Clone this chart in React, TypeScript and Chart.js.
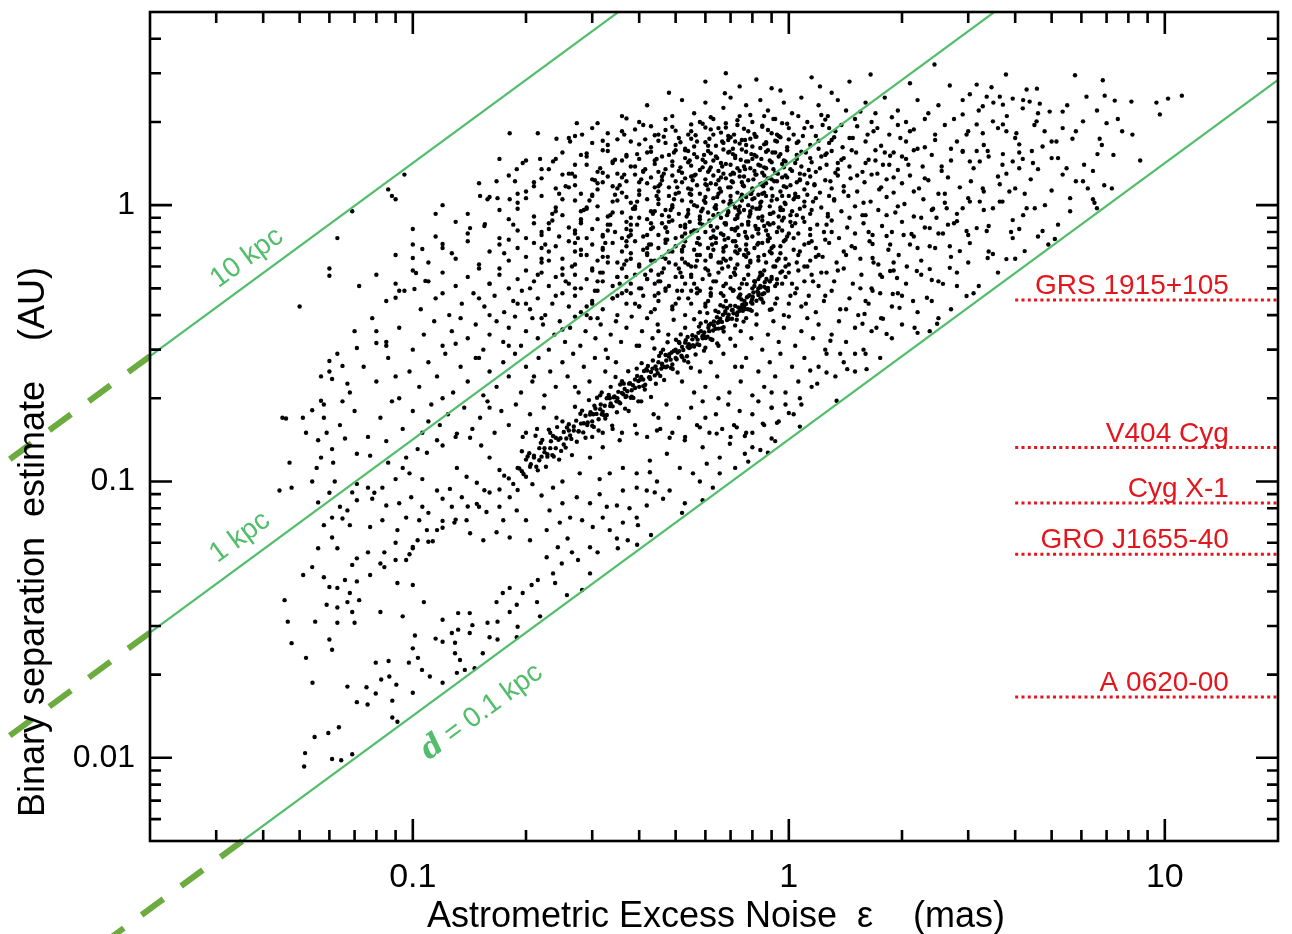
import React, { useEffect, useRef } from "react";
import { Chart, registerables } from "chart.js";

Chart.register(...registerables);

type P = [number, number];

// ---------- axes ----------
const xRange = [0.02, 20];
const yRange = [0.005, 5];
const xMajorTicks = [0.1, 1, 10];
const yMajorTicks = [0.01, 0.1, 1];
const xMinorTicks = [0.03, 0.04, 0.05, 0.06, 0.07, 0.08, 0.09, 0.2, 0.3, 0.4, 0.5, 0.6, 0.7, 0.8, 0.9, 2, 3, 4, 5, 6, 7, 8, 9];
const yMinorTicks = [0.006, 0.007, 0.008, 0.009, 0.02, 0.03, 0.04, 0.05, 0.06, 0.07, 0.08, 0.09, 0.2, 0.3, 0.4, 0.5, 0.6, 0.7, 0.8, 0.9, 2, 3, 4];
const xTitle = "Astrometric Excess Noise  \u03b5    (mas)";
const yTitle = "Binary separation  estimate    (AU)";

// ---------- distance lines ----------
const distanceNames = ["10 kpc", "1 kpc", "= 0.1 kpc"];
const distanceLines: P[][] = [
  [[0.02, 0.284], [20, 284]],
  [[0.02, 0.0284], [20, 28.4]],
  [[0.02, 0.00284], [20, 2.84]],
];
const distanceExtensions: P[][] = [
  [[0.02, 0.284], [0.0083, 0.1179]],
  [[0.02, 0.0284], [0.0083, 0.01179]],
  [[0.0352, 0.005], [0.0083, 0.001179]],
];
const distanceLabelPos: P[] = [[0.0362, 0.644], [0.0347, 0.0628], [0.1526, 0.01466]];

// ---------- X-ray binaries ----------
const sourceNames = ["GRS 1915+105", "V404 Cyg", "Cyg X-1", "GRO J1655-40", "A 0620-00"];
const sourceSeparations = [0.454, 0.1327, 0.0835, 0.0545, 0.0166];
const sourceLineRange = [4.0, 20];
const sourceLabelRight = 14.8;

// ---------- scatter points (epsilon mas, separation AU) ----------
const topPoints: P[] = [
  [1.65, 2.97], [3.78, 2.97], [5.77, 2.95], [6.84, 2.83], [2.44, 3.23], [2.1, 2.76], [2.68, 2.71], [3.16, 2.73], [3.46, 2.67], [4.29, 2.62],
  [4.57, 2.64], [10.2, 2.43], [11.1, 2.49], [6.19, 2.47], [6.92, 2.49], [7.36, 2.39], [8.15, 2.37], [1.21, 2.69], [0.9, 2.65], [0.74, 2.69],
  [0.6, 2.8], [0.676, 2.54], [0.68, 3.0], [0.82, 2.85], [1.15, 2.9], [1.45, 2.8], [0.95, 2.6], [1.3, 2.55], [0.48, 2.55], [9.5, 2.35],
];

const cloudUpper: P[] = [
  [0.36, 2.1], [0.42, 2.3], [0.47, 2.05], [0.52, 2.4], [0.56, 2.15], [0.6, 2.35], [0.63, 2.05], [0.67, 2.25], [0.7, 2.45], [0.74, 2.1],
  [0.77, 2.3], [0.8, 2.0], [0.84, 2.4], [0.88, 2.2], [0.92, 2.05], [0.97, 2.35], [1.02, 2.15], [1.08, 2.45], [1.12, 2.0], [1.2, 2.3],
  [1.27, 2.1], [1.35, 2.4], [1.42, 2.2], [1.5, 2.05], [1.6, 2.35], [1.7, 2.15], [1.8, 2.45], [1.95, 2.2], [2.05, 2.0], [2.2, 2.4],
  [2.35, 2.15], [2.5, 2.3], [2.75, 2.05], [2.9, 2.4], [3.2, 2.2], [3.5, 2.35], [3.8, 2.1], [4.2, 2.4], [4.6, 2.15], [5.5, 2.3],
  [6.6, 2.2], [7.5, 2.05], [0.4, 2.0], [0.58, 2.0], [0.86, 2.1],
  [0.26, 1.75], [0.3, 1.9], [0.33, 1.65], [0.36, 1.85], [0.38, 1.7], [0.41, 1.95], [0.43, 1.62], [0.45, 1.8], [0.47, 1.68], [0.49, 1.92],
  [0.51, 1.75], [0.53, 1.6], [0.55, 1.85], [0.57, 1.7], [0.59, 1.97], [0.61, 1.64], [0.63, 1.8], [0.65, 1.9], [0.67, 1.68], [0.69, 1.78],
  [0.71, 1.6], [0.73, 1.95], [0.75, 1.72], [0.78, 1.85], [0.8, 1.63], [0.82, 1.77], [0.85, 1.92], [0.87, 1.67], [0.9, 1.82], [0.93, 1.7],
  [0.96, 1.98], [0.99, 1.62], [1.03, 1.8], [1.06, 1.7], [1.1, 1.9], [1.14, 1.65], [1.18, 1.78], [1.23, 1.95], [1.28, 1.68], [1.33, 1.85],
  [1.39, 1.62], [1.45, 1.75], [1.52, 1.93], [1.6, 1.7], [1.68, 1.85], [1.76, 1.64], [1.85, 1.8], [1.95, 1.95], [2.05, 1.7], [2.15, 1.88],
  [2.3, 1.62], [2.45, 1.8], [2.6, 1.95], [2.8, 1.7], [3.0, 1.85], [3.3, 1.65], [3.6, 1.9], [4.0, 1.75], [4.5, 1.95], [5.0, 1.7],
  [5.8, 1.85], [6.8, 1.65], [8.2, 1.8], [0.62, 1.88], [0.72, 1.7], [0.84, 1.61], [0.47, 1.87], [0.56, 1.63], [0.95, 1.76], [1.2, 1.6],
  [0.68, 1.98], [0.77, 1.65],
  [0.2, 1.45], [0.23, 1.35], [0.25, 1.55], [0.27, 1.4], [0.29, 1.5], [0.31, 1.32], [0.32, 1.58], [0.34, 1.42], [0.35, 1.3], [0.37, 1.52],
  [0.38, 1.38], [0.4, 1.47], [0.41, 1.33], [0.43, 1.56], [0.44, 1.41], [0.46, 1.5], [0.47, 1.35], [0.49, 1.44], [0.5, 1.58], [0.52, 1.31],
  [0.53, 1.48], [0.55, 1.39], [0.56, 1.53], [0.58, 1.34], [0.59, 1.46], [0.61, 1.57], [0.62, 1.37], [0.64, 1.5], [0.66, 1.42], [0.67, 1.3],
  [0.69, 1.55], [0.7, 1.4], [0.72, 1.48], [0.74, 1.33], [0.75, 1.59], [0.77, 1.44], [0.79, 1.36], [0.81, 1.52], [0.83, 1.4], [0.85, 1.31],
  [0.87, 1.56], [0.89, 1.45], [0.91, 1.35], [0.94, 1.5], [0.96, 1.41], [0.99, 1.58], [1.02, 1.33], [1.05, 1.47], [1.08, 1.38], [1.11, 1.55],
  [1.15, 1.43], [1.18, 1.32], [1.22, 1.5], [1.26, 1.4], [1.3, 1.57], [1.35, 1.35], [1.4, 1.48], [1.45, 1.38], [1.51, 1.55], [1.57, 1.32],
  [1.63, 1.46], [1.7, 1.58], [1.78, 1.4], [1.86, 1.51], [1.95, 1.34], [2.05, 1.47], [2.15, 1.58], [2.27, 1.38], [2.4, 1.52], [2.55, 1.33],
  [2.7, 1.45], [2.9, 1.56], [3.1, 1.36], [3.4, 1.5], [3.7, 1.4], [4.1, 1.55], [4.6, 1.35], [5.2, 1.48], [6.1, 1.4], [7.3, 1.52],
  [8.6, 1.45], [0.26, 1.3], [0.36, 1.45], [0.45, 1.32], [0.54, 1.57], [0.6, 1.43], [0.65, 1.33], [0.71, 1.53], [0.76, 1.38], [0.8, 1.47],
  [0.86, 1.37], [0.92, 1.55], [0.98, 1.44], [1.13, 1.34], [1.25, 1.52], [1.6, 1.42], [1.9, 1.55],
  [0.15, 1.2], [0.18, 1.28], [0.2, 1.12], [0.22, 1.25], [0.24, 1.15], [0.25, 1.29], [0.27, 1.18], [0.28, 1.1], [0.3, 1.24], [0.31, 1.14],
  [0.33, 1.27], [0.34, 1.17], [0.36, 1.11], [0.37, 1.22], [0.39, 1.29], [0.4, 1.13], [0.42, 1.2], [0.43, 1.26], [0.45, 1.12], [0.46, 1.23],
  [0.48, 1.16], [0.49, 1.28], [0.51, 1.11], [0.52, 1.21], [0.54, 1.15], [0.55, 1.27], [0.57, 1.18], [0.58, 1.1], [0.6, 1.24], [0.61, 1.14],
  [0.63, 1.28], [0.64, 1.19], [0.66, 1.12], [0.68, 1.25], [0.69, 1.16], [0.71, 1.21], [0.73, 1.11], [0.74, 1.27], [0.76, 1.17], [0.78, 1.23],
  [0.8, 1.13], [0.82, 1.29], [0.84, 1.19], [0.86, 1.11], [0.88, 1.25], [0.9, 1.15], [0.93, 1.22], [0.95, 1.12], [0.98, 1.28], [1.01, 1.18],
  [1.04, 1.1], [1.07, 1.24], [1.1, 1.14], [1.14, 1.27], [1.17, 1.19], [1.21, 1.11], [1.25, 1.23], [1.3, 1.15], [1.35, 1.28], [1.4, 1.17],
  [1.46, 1.25], [1.52, 1.12], [1.59, 1.21], [1.66, 1.29], [1.74, 1.14], [1.82, 1.24], [1.9, 1.11], [2.0, 1.2], [2.1, 1.28], [2.22, 1.15],
  [2.35, 1.23], [2.5, 1.1], [2.65, 1.26], [2.85, 1.16], [3.05, 1.22], [3.3, 1.12], [3.6, 1.27], [4.0, 1.15], [4.4, 1.24], [5.0, 1.13],
  [5.8, 1.22], [6.9, 1.18], [0.21, 1.17], [0.32, 1.21], [0.44, 1.16], [0.53, 1.25], [0.62, 1.2], [0.7, 1.29], [0.79, 1.1], [0.87, 1.2],
  [0.96, 1.26], [1.12, 1.2],
  [0.12, 1.0], [0.09, 1.05], [0.14, 0.93], [0.16, 1.07], [0.17, 0.96], [0.19, 1.02], [0.21, 0.91], [0.22, 1.08], [0.24, 0.98], [0.25, 0.92],
  [0.27, 1.04], [0.28, 0.95], [0.3, 1.09], [0.31, 0.99], [0.33, 0.91], [0.34, 1.03], [0.36, 0.94], [0.37, 1.07], [0.39, 0.97], [0.4, 0.9],
  [0.42, 1.05], [0.43, 0.95], [0.45, 1.01], [0.46, 0.92], [0.48, 1.08], [0.49, 0.98], [0.51, 0.93], [0.52, 1.04], [0.54, 0.96], [0.55, 1.09],
  [0.57, 0.99], [0.58, 0.91], [0.6, 1.02], [0.61, 0.94], [0.63, 1.06], [0.64, 0.97], [0.66, 0.9], [0.67, 1.03], [0.69, 0.95], [0.7, 1.08],
  [0.72, 0.98], [0.73, 0.92], [0.75, 1.04], [0.76, 0.96], [0.78, 1.0], [0.79, 0.93], [0.81, 1.06], [0.82, 0.97], [0.84, 1.02], [0.85, 0.91],
  [0.87, 1.08], [0.89, 0.99], [0.91, 0.94], [0.93, 1.05], [0.95, 0.96], [0.98, 1.01], [1.01, 0.92], [1.04, 1.07], [1.07, 0.97], [1.1, 1.03],
  [1.14, 0.93], [1.18, 1.06], [1.22, 0.98], [1.27, 0.91], [1.32, 1.04], [1.38, 0.95], [1.44, 1.08], [1.5, 0.99], [1.57, 0.92], [1.65, 1.03],
  [1.73, 0.96], [1.82, 1.07], [1.92, 0.94], [2.03, 1.01], [2.15, 0.91], [2.28, 1.05], [2.42, 0.97], [2.6, 1.02], [2.8, 0.93], [3.0, 1.06],
  [3.3, 0.96], [3.7, 1.03], [4.2, 0.92], [4.8, 1.0], [5.6, 0.95], [6.5, 1.02], [0.77, 1.07], [0.8, 0.98], [0.74, 0.94], [0.83, 1.09],
  [0.71, 1.01], [0.65, 0.93], [0.56, 1.0], [0.47, 0.96], [0.38, 1.02], [0.29, 0.97], [1.0, 1.08], [0.97, 0.9],
];

const cloudMiddle: P[] = [
  [0.1, 0.82], [0.115, 0.77], [0.13, 0.87], [0.14, 0.79], [0.155, 0.84], [0.17, 0.76], [0.18, 0.89], [0.19, 0.81], [0.2, 0.76], [0.21, 0.86],
  [0.22, 0.8], [0.235, 0.88], [0.245, 0.77], [0.26, 0.83], [0.27, 0.79], [0.28, 0.87], [0.29, 0.76], [0.3, 0.82], [0.31, 0.89], [0.32, 0.78],
  [0.335, 0.85], [0.345, 0.8], [0.36, 0.76], [0.37, 0.87], [0.38, 0.81], [0.395, 0.85], [0.41, 0.77], [0.42, 0.89], [0.435, 0.83], [0.45, 0.78],
  [0.46, 0.86], [0.475, 0.8], [0.49, 0.88], [0.5, 0.76], [0.515, 0.84], [0.53, 0.79], [0.545, 0.87], [0.56, 0.81], [0.575, 0.76], [0.59, 0.85],
  [0.6, 0.8], [0.615, 0.88], [0.63, 0.77], [0.645, 0.83], [0.66, 0.79], [0.675, 0.86], [0.69, 0.76], [0.705, 0.82], [0.72, 0.89], [0.735, 0.78],
  [0.75, 0.85], [0.765, 0.8], [0.78, 0.87], [0.8, 0.77], [0.815, 0.84], [0.83, 0.79], [0.85, 0.88], [0.87, 0.81], [0.89, 0.76], [0.91, 0.86],
  [0.93, 0.8], [0.96, 0.88], [0.99, 0.77], [1.02, 0.84], [1.06, 0.79], [1.1, 0.87], [1.14, 0.78], [1.19, 0.85], [1.24, 0.8], [1.3, 0.88],
  [1.36, 0.76], [1.43, 0.83], [1.5, 0.79], [1.58, 0.86], [1.67, 0.78], [1.77, 0.84], [1.88, 0.8], [2.0, 0.87], [2.15, 0.77], [2.3, 0.83],
  [2.5, 0.79], [2.75, 0.86], [3.0, 0.78], [3.4, 0.84], [3.9, 0.8], [4.6, 0.77], [5.2, 0.85], [0.063, 0.76], [0.069, 0.95], [0.086, 1.14],
  [0.088, 1.08], [0.095, 1.29], [0.55, 0.8], [0.64, 0.76], [0.72, 0.81], [0.86, 0.84], [0.47, 0.83], [0.38, 0.78],
  [0.09, 0.66], [0.1, 0.72], [0.11, 0.62], [0.12, 0.7], [0.13, 0.64], [0.14, 0.74], [0.15, 0.61], [0.16, 0.68], [0.17, 0.72], [0.18, 0.63],
  [0.19, 0.7], [0.2, 0.65], [0.21, 0.73], [0.22, 0.62], [0.23, 0.68], [0.24, 0.71], [0.25, 0.64], [0.26, 0.74], [0.27, 0.61], [0.28, 0.69],
  [0.29, 0.66], [0.3, 0.72], [0.31, 0.63], [0.32, 0.7], [0.33, 0.65], [0.34, 0.73], [0.35, 0.62], [0.36, 0.68], [0.37, 0.71], [0.38, 0.64],
  [0.39, 0.74], [0.4, 0.61], [0.41, 0.69], [0.42, 0.66], [0.43, 0.72], [0.44, 0.63], [0.45, 0.7], [0.46, 0.65], [0.47, 0.73], [0.48, 0.62],
  [0.49, 0.68], [0.5, 0.71], [0.52, 0.64], [0.53, 0.74], [0.54, 0.61], [0.56, 0.69], [0.57, 0.66], [0.58, 0.72], [0.6, 0.63], [0.61, 0.7],
  [0.62, 0.65], [0.64, 0.73], [0.65, 0.62], [0.67, 0.68], [0.68, 0.71], [0.7, 0.64], [0.71, 0.74], [0.73, 0.61], [0.74, 0.69], [0.76, 0.66],
  [0.77, 0.72], [0.79, 0.63], [0.81, 0.7], [0.83, 0.65], [0.85, 0.73], [0.87, 0.62], [0.89, 0.68], [0.91, 0.71], [0.94, 0.64], [0.97, 0.74],
  [1.0, 0.61], [1.03, 0.69], [1.06, 0.66], [1.1, 0.72], [1.14, 0.63], [1.18, 0.7], [1.23, 0.65], [1.28, 0.73], [1.34, 0.62], [1.4, 0.68],
  [1.47, 0.71], [1.55, 0.64], [1.64, 0.74], [1.73, 0.61], [1.84, 0.69], [1.96, 0.66], [2.1, 0.72], [2.25, 0.63], [2.45, 0.7], [2.7, 0.65],
  [3.0, 0.62], [3.4, 0.68], [4.0, 0.64], [4.9, 0.72], [0.06, 0.59], [0.98, 0.6], [1.05, 0.62], [1.12, 0.6], [0.95, 0.67], [0.88, 0.74],
  [0.78, 0.67], [0.69, 0.6], [0.55, 0.6],
  [0.072, 0.51], [0.08, 0.56], [0.09, 0.52], [0.1, 0.58], [0.11, 0.53], [0.12, 0.57], [0.13, 0.51], [0.14, 0.55], [0.15, 0.59], [0.16, 0.52],
  [0.17, 0.56], [0.18, 0.5], [0.19, 0.54], [0.2, 0.58], [0.21, 0.53], [0.22, 0.57], [0.23, 0.51], [0.24, 0.55], [0.25, 0.59], [0.26, 0.52],
  [0.27, 0.56], [0.28, 0.5], [0.29, 0.54], [0.3, 0.58], [0.31, 0.53], [0.32, 0.57], [0.34, 0.51], [0.35, 0.55], [0.36, 0.59], [0.38, 0.52],
  [0.39, 0.56], [0.4, 0.5], [0.42, 0.54], [0.43, 0.58], [0.45, 0.53], [0.46, 0.57], [0.48, 0.51], [0.5, 0.55], [0.51, 0.59], [0.53, 0.52],
  [0.55, 0.56], [0.57, 0.5], [0.59, 0.54], [0.61, 0.58], [0.63, 0.53], [0.65, 0.57], [0.67, 0.51], [0.7, 0.55], [0.72, 0.59], [0.75, 0.52],
  [0.78, 0.56], [0.8, 0.5], [0.83, 0.54], [0.86, 0.58], [0.89, 0.53], [0.92, 0.51], [0.95, 0.57], [0.98, 0.55], [1.02, 0.52], [1.06, 0.58],
  [1.1, 0.53], [1.15, 0.56], [1.2, 0.51], [1.26, 0.57], [1.32, 0.53], [1.4, 0.59], [1.48, 0.52], [1.56, 0.56], [1.66, 0.5], [1.77, 0.55],
  [1.9, 0.58], [2.05, 0.52], [2.25, 0.56], [2.5, 0.53], [2.8, 0.57], [3.2, 0.51], [3.6, 0.57], [0.06, 0.555], [0.87, 0.5], [0.9, 0.55],
  [0.93, 0.52], [0.84, 0.51], [0.81, 0.53], [0.37, 0.55], [0.44, 0.52], [0.62, 0.5],
  [0.05, 0.43], [0.085, 0.45], [0.095, 0.49], [0.105, 0.42], [0.115, 0.46], [0.125, 0.4], [0.135, 0.44], [0.145, 0.48], [0.155, 0.43], [0.165, 0.47],
  [0.175, 0.41], [0.185, 0.45], [0.195, 0.49], [0.205, 0.42], [0.215, 0.46], [0.225, 0.4], [0.235, 0.44], [0.25, 0.48], [0.26, 0.43], [0.27, 0.47],
  [0.28, 0.41], [0.3, 0.45], [0.31, 0.49], [0.32, 0.42], [0.34, 0.46], [0.35, 0.4], [0.37, 0.44], [0.38, 0.48], [0.4, 0.43], [0.41, 0.47],
  [0.43, 0.41], [0.45, 0.45], [0.47, 0.49], [0.49, 0.42], [0.51, 0.46], [0.53, 0.4], [0.55, 0.44], [0.57, 0.48], [0.6, 0.43], [0.62, 0.47],
  [0.65, 0.41], [0.68, 0.45], [0.71, 0.49], [0.9, 0.42], [0.93, 0.46], [0.97, 0.4], [1.0, 0.44], [1.04, 0.48], [1.08, 0.43], [1.13, 0.47],
  [1.18, 0.41], [1.24, 0.45], [1.3, 0.49], [1.37, 0.42], [1.45, 0.46], [1.53, 0.4], [1.63, 0.44], [1.75, 0.48], [1.88, 0.43], [2.0, 0.47],
  [2.2, 0.41], [2.4, 0.45], [2.7, 0.42], [3.1, 0.48], [0.52, 0.49], [0.44, 0.42], [0.36, 0.48], [0.29, 0.4], [0.2, 0.44], [0.58, 0.41],
  [0.66, 0.48], [0.16, 0.4], [0.12, 0.48],
];

const cloudLower: P[] = [
  [0.07, 0.35], [0.078, 0.39], [0.085, 0.32], [0.092, 0.36], [0.1, 0.3], [0.107, 0.34], [0.114, 0.38], [0.12, 0.31], [0.127, 0.35], [0.134, 0.39],
  [0.14, 0.33], [0.147, 0.37], [0.154, 0.3], [0.16, 0.34], [0.167, 0.38], [0.174, 0.32], [0.18, 0.36], [0.187, 0.395], [0.194, 0.31], [0.2, 0.35],
  [0.208, 0.39], [0.215, 0.33], [0.222, 0.37], [0.23, 0.3], [0.238, 0.34], [0.246, 0.38], [0.254, 0.32], [0.262, 0.36], [0.27, 0.395], [0.279, 0.31],
  [0.288, 0.35], [0.297, 0.39], [0.306, 0.33], [0.316, 0.37], [0.326, 0.3], [0.336, 0.34], [0.347, 0.38], [0.358, 0.32], [0.37, 0.36], [0.382, 0.395],
  [0.394, 0.31], [0.407, 0.35], [0.42, 0.39], [0.434, 0.33], [0.448, 0.37], [0.463, 0.3], [0.478, 0.34], [0.494, 0.385], [0.51, 0.32], [0.53, 0.36],
  [0.72, 0.31], [0.745, 0.35], [0.77, 0.39], [0.795, 0.33], [0.82, 0.37], [0.85, 0.3], [0.88, 0.34], [0.91, 0.38], [0.94, 0.32], [0.97, 0.36],
  [1.0, 0.395], [1.04, 0.31], [1.08, 0.35], [1.12, 0.39], [1.16, 0.33], [1.2, 0.37], [1.25, 0.3], [1.3, 0.34], [1.36, 0.38], [1.42, 0.32],
  [1.5, 0.36], [1.58, 0.3], [1.66, 0.35], [1.76, 0.39], [1.88, 0.33], [2.0, 0.37], [2.2, 0.345], [2.5, 0.39], [0.18, 0.31], [0.25, 0.355],
  [0.31, 0.39], [0.4, 0.31], [0.45, 0.35], [0.5, 0.3], [0.08, 0.35], [0.13, 0.315], [0.22, 0.39], [0.6, 0.305], [0.65, 0.31],
  [0.057, 0.24], [0.063, 0.29], [0.068, 0.21], [0.074, 0.26], [0.08, 0.23], [0.086, 0.28], [0.092, 0.2], [0.098, 0.25], [0.104, 0.22], [0.11, 0.27],
  [0.116, 0.24], [0.122, 0.29], [0.128, 0.21], [0.134, 0.26], [0.14, 0.23], [0.147, 0.28], [0.154, 0.205], [0.16, 0.25], [0.167, 0.22], [0.174, 0.27],
  [0.18, 0.24], [0.187, 0.29], [0.194, 0.21], [0.2, 0.26], [0.208, 0.23], [0.216, 0.28], [0.224, 0.205], [0.232, 0.25], [0.24, 0.22], [0.25, 0.27],
  [0.258, 0.24], [0.267, 0.29], [0.276, 0.21], [0.285, 0.26], [0.295, 0.23], [0.305, 0.28], [0.315, 0.205], [0.325, 0.25], [0.336, 0.22], [0.347, 0.27],
  [0.56, 0.21], [0.58, 0.25], [0.6, 0.22], [0.62, 0.27], [0.645, 0.24], [0.67, 0.29], [0.695, 0.21], [0.72, 0.26], [0.745, 0.23], [0.77, 0.28],
  [0.8, 0.205], [0.83, 0.25], [0.86, 0.22], [0.89, 0.27], [0.92, 0.24], [0.95, 0.29], [0.98, 0.21], [1.02, 0.26], [1.06, 0.23], [1.1, 0.28],
  [1.15, 0.22], [1.2, 0.26], [1.26, 0.29], [1.33, 0.24], [1.4, 0.27], [1.5, 0.25], [1.6, 0.29], [1.75, 0.28], [0.52, 0.23], [0.54, 0.27],
  [0.09, 0.24], [0.15, 0.28], [0.21, 0.24], [0.27, 0.22], [0.33, 0.28], [0.65, 0.2], [0.75, 0.26], [0.9, 0.21], [0.12, 0.2], [0.06, 0.25],
  [0.045, 0.17], [0.052, 0.15], [0.058, 0.19], [0.064, 0.16], [0.07, 0.18], [0.076, 0.145], [0.082, 0.17], [0.088, 0.195], [0.094, 0.155], [0.1, 0.18],
  [0.106, 0.15], [0.112, 0.19], [0.118, 0.16], [0.124, 0.175], [0.13, 0.145], [0.137, 0.185], [0.144, 0.155], [0.151, 0.17], [0.158, 0.195], [0.165, 0.15],
  [0.172, 0.18], [0.18, 0.16], [0.188, 0.19], [0.196, 0.145], [0.205, 0.175], [0.214, 0.155], [0.223, 0.185], [0.232, 0.15], [0.241, 0.17], [0.36, 0.15],
  [0.375, 0.18], [0.39, 0.16], [0.405, 0.195], [0.42, 0.145], [0.437, 0.175], [0.455, 0.155], [0.473, 0.19], [0.49, 0.15], [0.51, 0.17], [0.53, 0.145],
  [0.55, 0.185], [0.57, 0.16], [0.59, 0.195], [0.615, 0.15], [0.64, 0.175], [0.665, 0.155], [0.69, 0.19], [0.715, 0.16], [0.74, 0.18], [0.77, 0.15],
  [0.8, 0.175], [0.83, 0.195], [0.86, 0.16], [0.9, 0.185], [0.94, 0.165], [0.98, 0.19], [1.03, 0.175], [1.08, 0.19], [0.3, 0.145], [0.32, 0.15],
  [0.34, 0.155], [0.065, 0.195], [0.11, 0.165], [0.16, 0.185], [0.2, 0.15], [0.45, 0.17], [0.6, 0.17], [0.7, 0.145], [0.085, 0.14],
];

const coreFill: P[] = [
  [0.33, 1.82], [0.39, 1.88], [0.44, 1.79], [0.5, 1.86], [0.54, 1.8], [0.6, 1.91], [0.66, 1.83], [0.7, 1.76], [0.76, 1.89], [0.81, 1.81],
  [0.88, 1.87], [0.94, 1.78], [1.0, 1.9],
  [0.3, 1.68], [0.35, 1.73], [0.4, 1.66], [0.45, 1.71], [0.5, 1.65], [0.55, 1.74], [0.6, 1.69], [0.64, 1.64], [0.69, 1.72], [0.74, 1.67],
  [0.79, 1.74], [0.86, 1.66], [0.92, 1.71], [1.05, 1.68],
  [0.28, 1.52], [0.33, 1.57], [0.37, 1.5], [0.42, 1.55], [0.48, 1.52], [0.53, 1.58], [0.57, 1.49], [0.62, 1.54], [0.67, 1.59], [0.72, 1.51],
  [0.77, 1.56], [0.82, 1.5], [0.88, 1.58], [0.95, 1.53], [1.08, 1.56],
  [0.29, 1.4], [0.34, 1.44], [0.39, 1.38], [0.44, 1.45], [0.49, 1.39], [0.54, 1.43], [0.59, 1.37], [0.63, 1.45], [0.68, 1.41], [0.73, 1.36],
  [0.78, 1.44], [0.84, 1.39], [0.9, 1.43], [0.97, 1.37], [1.04, 1.42],
  [0.27, 1.27], [0.32, 1.31], [0.36, 1.26], [0.41, 1.32], [0.46, 1.27], [0.51, 1.33], [0.56, 1.28], [0.61, 1.32], [0.66, 1.26], [0.71, 1.31],
  [0.76, 1.27], [0.81, 1.33], [0.86, 1.28], [0.92, 1.31], [0.99, 1.26], [1.07, 1.3],
  [0.26, 1.16], [0.31, 1.2], [0.35, 1.15], [0.4, 1.21], [0.45, 1.17], [0.5, 1.22], [0.55, 1.14], [0.6, 1.19], [0.65, 1.23], [0.7, 1.16],
  [0.75, 1.21], [0.8, 1.15], [0.85, 1.2], [0.9, 1.24], [0.97, 1.17], [1.05, 1.21],
  [0.25, 1.05], [0.3, 1.08], [0.35, 1.04], [0.4, 1.09], [0.45, 1.05], [0.5, 1.1], [0.55, 1.03], [0.6, 1.07], [0.65, 1.1], [0.7, 1.04],
  [0.75, 1.09], [0.8, 1.05], [0.85, 1.1], [0.9, 1.04], [0.96, 1.08], [1.03, 1.05], [1.12, 1.09],
  [0.24, 0.95], [0.29, 0.98], [0.34, 0.94], [0.39, 0.99], [0.44, 0.95], [0.49, 1.0], [0.54, 0.93], [0.59, 0.97], [0.64, 1.0], [0.69, 0.94],
  [0.74, 0.99], [0.79, 0.95], [0.84, 0.99], [0.89, 0.93], [0.95, 0.98], [1.02, 0.95], [1.1, 0.99],
  [0.23, 0.86], [0.28, 0.89], [0.33, 0.85], [0.38, 0.9], [0.43, 0.86], [0.48, 0.91], [0.53, 0.85], [0.58, 0.89], [0.63, 0.92], [0.68, 0.86],
  [0.73, 0.9], [0.78, 0.85], [0.83, 0.9], [0.88, 0.86], [0.94, 0.91], [1.01, 0.87], [1.09, 0.9],
  [0.22, 0.78], [0.27, 0.81], [0.32, 0.77], [0.37, 0.82], [0.42, 0.78], [0.47, 0.83], [0.52, 0.77], [0.57, 0.81], [0.62, 0.84], [0.67, 0.78],
  [0.72, 0.82], [0.77, 0.77], [0.82, 0.82], [0.88, 0.78], [0.94, 0.83], [1.0, 0.79],
  [0.22, 0.7], [0.27, 0.73], [0.32, 0.69], [0.37, 0.74], [0.42, 0.7], [0.47, 0.75], [0.52, 0.69], [0.57, 0.73], [0.62, 0.76], [0.67, 0.7],
  [0.72, 0.74], [0.77, 0.69], [0.83, 0.73], [0.9, 0.7], [0.98, 0.75],
  [0.23, 0.63], [0.28, 0.66], [0.33, 0.62], [0.38, 0.67], [0.43, 0.63], [0.48, 0.68], [0.53, 0.62], [0.58, 0.66], [0.63, 0.69], [0.68, 0.63],
  [0.73, 0.67], [0.79, 0.62], [0.86, 0.66], [0.93, 0.63],
  [0.25, 0.56], [0.3, 0.59], [0.35, 0.55], [0.4, 0.6], [0.45, 0.56], [0.5, 0.61], [0.55, 0.55], [0.6, 0.59], [0.66, 0.62], [0.72, 0.56],
  [0.78, 0.6], [0.85, 0.56], [0.92, 0.6],
  [0.27, 0.5], [0.32, 0.53], [0.37, 0.49], [0.42, 0.54], [0.47, 0.5], [0.52, 0.55], [0.58, 0.49], [0.64, 0.53], [0.7, 0.5], [0.76, 0.54],
  [0.83, 0.5], [0.89, 0.53],
  [0.3, 0.44], [0.35, 0.47], [0.4, 0.43], [0.45, 0.48], [0.5, 0.44], [0.55, 0.49], [0.61, 0.45], [0.67, 0.43], [0.74, 0.47], [0.8, 0.44],
  [0.86, 0.48],
];

const coreFill2: P[] = [
  [0.31, 1.98], [0.37, 2.06], [0.43, 1.93], [0.49, 2.1], [0.55, 1.96], [0.62, 2.08], [0.68, 1.91], [0.73, 2.03], [0.79, 2.12], [0.85, 1.94],
  [0.91, 2.05], [0.99, 1.97], [1.06, 2.1], [1.15, 1.92], [1.25, 2.04],
  [0.27, 1.78], [0.32, 1.71], [0.365, 1.8], [0.415, 1.73], [0.465, 1.77], [0.515, 1.69], [0.565, 1.79], [0.615, 1.74], [0.665, 1.7], [0.715, 1.8],
  [0.765, 1.72], [0.815, 1.77], [0.87, 1.69], [0.93, 1.8], [1.0, 1.73], [1.09, 1.78], [1.2, 1.71], [1.32, 1.76],
  [0.24, 1.47], [0.29, 1.54], [0.345, 1.46], [0.395, 1.53], [0.445, 1.47], [0.495, 1.55], [0.545, 1.45], [0.595, 1.52], [0.645, 1.48], [0.695, 1.56],
  [0.745, 1.46], [0.795, 1.53], [0.845, 1.47], [0.905, 1.55], [0.97, 1.45], [1.05, 1.52], [1.14, 1.48], [1.26, 1.54], [1.38, 1.46],
  [0.22, 1.35], [0.265, 1.3], [0.315, 1.36], [0.365, 1.29], [0.415, 1.35], [0.465, 1.3], [0.515, 1.37], [0.565, 1.29], [0.615, 1.34], [0.665, 1.38],
  [0.715, 1.3], [0.765, 1.35], [0.815, 1.29], [0.87, 1.36], [0.935, 1.3], [1.01, 1.35], [1.1, 1.29], [1.21, 1.36], [1.33, 1.31],
  [0.21, 1.21], [0.255, 1.17], [0.305, 1.23], [0.355, 1.18], [0.405, 1.24], [0.455, 1.19], [0.505, 1.16], [0.555, 1.23], [0.605, 1.18], [0.655, 1.15],
  [0.705, 1.22], [0.755, 1.18], [0.805, 1.24], [0.855, 1.17], [0.915, 1.22], [0.985, 1.16], [1.07, 1.23], [1.17, 1.18], [1.29, 1.22],
  [0.2, 1.06], [0.245, 1.1], [0.295, 1.04], [0.345, 1.09], [0.395, 1.03], [0.445, 1.08], [0.495, 1.05], [0.545, 1.1], [0.595, 1.04], [0.645, 1.07],
  [0.695, 1.01], [0.745, 1.06], [0.795, 1.1], [0.845, 1.03], [0.905, 1.08], [0.975, 1.02], [1.06, 1.07], [1.16, 1.03], [1.28, 1.08],
  [0.19, 0.97], [0.235, 0.93], [0.285, 0.96], [0.335, 0.92], [0.385, 0.97], [0.435, 0.93], [0.485, 0.96], [0.535, 0.91], [0.585, 0.95], [0.635, 0.98],
  [0.685, 0.92], [0.735, 0.96], [0.785, 0.91], [0.835, 0.97], [0.895, 0.93], [0.965, 0.96], [1.05, 0.92], [1.15, 0.96], [1.27, 0.93],
  [0.185, 0.85], [0.23, 0.82], [0.28, 0.86], [0.33, 0.81], [0.38, 0.85], [0.43, 0.82], [0.48, 0.87], [0.53, 0.83], [0.58, 0.86], [0.63, 0.81],
  [0.68, 0.85], [0.73, 0.83], [0.78, 0.87], [0.83, 0.82], [0.89, 0.85], [0.96, 0.81], [1.04, 0.86], [1.14, 0.82], [1.26, 0.85],
  [0.18, 0.75], [0.225, 0.72], [0.275, 0.76], [0.325, 0.73], [0.375, 0.77], [0.425, 0.72], [0.475, 0.75], [0.525, 0.71], [0.575, 0.76], [0.625, 0.72],
  [0.675, 0.75], [0.725, 0.71], [0.775, 0.76], [0.825, 0.72], [0.88, 0.75], [0.95, 0.71], [1.03, 0.76], [1.13, 0.73], [1.25, 0.75],
  [0.175, 0.67], [0.22, 0.64], [0.27, 0.68], [0.32, 0.65], [0.37, 0.63], [0.42, 0.67], [0.47, 0.64], [0.52, 0.68], [0.57, 0.63], [0.62, 0.66],
  [0.67, 0.64], [0.72, 0.68], [0.77, 0.65], [0.83, 0.63], [0.9, 0.67], [0.98, 0.64], [1.07, 0.68], [1.18, 0.65],
  [0.17, 0.59], [0.215, 0.56], [0.265, 0.6], [0.315, 0.57], [0.365, 0.61], [0.415, 0.56], [0.465, 0.59], [0.515, 0.57], [0.565, 0.6], [0.615, 0.56],
  [0.665, 0.59], [0.715, 0.57], [0.775, 0.6], [0.84, 0.57], [0.91, 0.6], [1.0, 0.57], [1.1, 0.6], [1.22, 0.57],
  [0.16, 0.52], [0.205, 0.5], [0.255, 0.53], [0.305, 0.49], [0.355, 0.52], [0.405, 0.5], [0.455, 0.53], [0.505, 0.49], [0.56, 0.52], [0.62, 0.48],
  [0.68, 0.52], [0.74, 0.5], [0.81, 0.53], [0.88, 0.49], [0.96, 0.52], [1.05, 0.5], [1.16, 0.53],
  [0.15, 0.46], [0.19, 0.44], [0.24, 0.47], [0.29, 0.43], [0.34, 0.46], [0.39, 0.44], [0.44, 0.47], [0.49, 0.43], [0.54, 0.46], [0.6, 0.44],
  [0.67, 0.47], [0.76, 0.43], [0.84, 0.46], [0.92, 0.44], [1.01, 0.47], [1.11, 0.44],
];

const rightFill: P[] = [
  [1.22, 2.12], [1.38, 1.95], [1.55, 2.18], [1.72, 1.9], [1.88, 2.08], [2.1, 1.85], [2.3, 2.05], [1.3, 1.72], [1.47, 1.58], [1.62, 1.8],
  [1.8, 1.55], [1.98, 1.75], [2.2, 1.6], [2.45, 1.72], [1.35, 1.42], [1.52, 1.28], [1.7, 1.45], [1.9, 1.26], [2.08, 1.4], [2.3, 1.25],
  [2.55, 1.38], [1.4, 1.12], [1.58, 1.02], [1.76, 1.16], [1.95, 0.99], [2.15, 1.12], [2.4, 0.96], [1.45, 0.9], [1.63, 0.8], [1.82, 0.92],
  [2.02, 0.78], [2.25, 0.9], [1.5, 0.7], [1.68, 0.62], [1.86, 0.72], [2.06, 0.6], [1.35, 0.58], [1.55, 0.5], [1.75, 0.56], [1.95, 0.48],
  [1.25, 0.47], [1.42, 0.42], [1.6, 0.45], [1.3, 0.8], [1.42, 0.66], [1.6, 0.92], [1.72, 1.3], [2.0, 1.5], [1.28, 1.9], [1.48, 1.75],
  [1.66, 2.0], [1.85, 1.4], [2.6, 1.1], [2.7, 1.6], [2.65, 0.85], [2.2, 0.7], [1.9, 0.62], [1.32, 1.05], [1.2, 0.66], [1.15, 0.74],
];

const streakPoints: P[] = [
  [0.1, 0.058], [0.11, 0.0605], [0.12, 0.072], [0.13, 0.0728], [0.14, 0.0812], [0.15, 0.081], [0.155, 0.093], [0.16, 0.0912], [0.17, 0.0935], [0.175, 0.105],
  [0.18, 0.1026], [0.185, 0.098], [0.19, 0.112], [0.195, 0.109], [0.2, 0.12], [0.205, 0.113], [0.21, 0.122], [0.213, 0.113], [0.217, 0.132], [0.22, 0.123],
  [0.224, 0.132], [0.228, 0.123], [0.232, 0.132], [0.236, 0.146], [0.24, 0.132], [0.244, 0.1415], [0.248, 0.129], [0.252, 0.151], [0.256, 0.143], [0.26, 0.153],
  [0.264, 0.1426], [0.268, 0.153], [0.272, 0.166], [0.276, 0.152], [0.28, 0.162], [0.284, 0.1505], [0.288, 0.173], [0.292, 0.1635], [0.296, 0.1746], [0.3, 0.165],
  [0.304, 0.188], [0.308, 0.1756], [0.312, 0.168], [0.316, 0.19], [0.32, 0.179], [0.324, 0.188], [0.328, 0.174], [0.332, 0.2025], [0.336, 0.1915], [0.34, 0.187],
  [0.344, 0.203], [0.348, 0.195], [0.352, 0.211], [0.356, 0.192], [0.36, 0.209], [0.364, 0.226], [0.368, 0.202], [0.372, 0.212], [0.376, 0.226], [0.38, 0.201],
  [0.385, 0.223], [0.39, 0.218], [0.395, 0.241], [0.4, 0.22], [0.405, 0.239], [0.41, 0.234], [0.415, 0.224], [0.42, 0.252], [0.425, 0.238], [0.43, 0.249],
  [0.435, 0.274], [0.44, 0.242], [0.445, 0.254], [0.45, 0.27], [0.455, 0.241], [0.46, 0.267], [0.465, 0.26], [0.47, 0.287], [0.475, 0.261], [0.48, 0.283],
  [0.485, 0.276], [0.49, 0.265], [0.495, 0.297], [0.5, 0.28], [0.506, 0.293], [0.512, 0.317], [0.518, 0.285], [0.524, 0.299], [0.53, 0.318], [0.536, 0.284],
  [0.542, 0.314], [0.548, 0.307], [0.554, 0.338], [0.56, 0.308], [0.566, 0.334], [0.572, 0.326], [0.578, 0.312], [0.584, 0.35], [0.59, 0.33], [0.596, 0.346],
  [0.602, 0.379], [0.608, 0.334], [0.614, 0.35], [0.62, 0.372], [0.626, 0.326], [0.632, 0.367], [0.638, 0.357], [0.644, 0.393], [0.65, 0.3575], [0.657, 0.388],
  [0.664, 0.378], [0.671, 0.362], [0.678, 0.407], [0.685, 0.384], [0.692, 0.401], [0.699, 0.433], [0.706, 0.388], [0.713, 0.406], [0.72, 0.432], [0.727, 0.385],
  [0.734, 0.426], [0.741, 0.415], [0.748, 0.456], [0.755, 0.415], [0.762, 0.45], [0.77, 0.439], [0.778, 0.42], [0.786, 0.472], [0.794, 0.445], [0.802, 0.465],
  [0.81, 0.51], [0.82, 0.451], [0.83, 0.473], [0.84, 0.504], [0.85, 0.476], [0.86, 0.507], [0.88, 0.502], [0.9, 0.54], [0.93, 0.54], [0.96, 0.576],
  [0.302, 0.175], [0.318, 0.175], [0.334, 0.2], [0.35, 0.2], [0.366, 0.216], [0.382, 0.214], [0.398, 0.231], [0.412, 0.251], [0.428, 0.235], [0.442, 0.261],
  [0.458, 0.256], [0.472, 0.274], [0.488, 0.293], [0.503, 0.277], [0.52, 0.307], [0.538, 0.307], [0.556, 0.311], [0.575, 0.345], [0.593, 0.338], [0.611, 0.36],
  [0.629, 0.352], [0.647, 0.375], [0.668, 0.401], [0.688, 0.392], [0.709, 0.418], [0.73, 0.409], [0.752, 0.436], [0.774, 0.464], [0.798, 0.455], [0.825, 0.487],
];

const streakWide: P[] = [
  [0.19, 0.0931], [0.195, 0.1287], [0.2, 0.104], [0.204, 0.1265], [0.208, 0.0978], [0.212, 0.1463], [0.217, 0.1194], [0.221, 0.1414], [0.226, 0.113], [0.23, 0.1541],
  [0.235, 0.1246], [0.24, 0.144], [0.245, 0.12], [0.25, 0.165], [0.255, 0.1326], [0.26, 0.1612], [0.265, 0.1246], [0.27, 0.1863], [0.276, 0.1518], [0.282, 0.1805],
  [0.288, 0.144], [0.294, 0.197], [0.3, 0.159], [0.306, 0.1836], [0.312, 0.1529], [0.318, 0.2099], [0.325, 0.169], [0.332, 0.2058], [0.339, 0.1593], [0.346, 0.2387],
  [0.353, 0.1942], [0.36, 0.2304], [0.367, 0.1835], [0.374, 0.2506], [0.382, 0.2025], [0.39, 0.234], [0.398, 0.195], [0.406, 0.268], [0.414, 0.2153], [0.422, 0.2616],
  [0.43, 0.2021], [0.439, 0.3029], [0.448, 0.2464], [0.457, 0.2925], [0.466, 0.233], [0.476, 0.3189], [0.486, 0.2576], [0.496, 0.2976], [0.506, 0.2479], [0.516, 0.3406],
  [0.527, 0.274], [0.538, 0.3336], [0.549, 0.258], [0.56, 0.3864], [0.571, 0.314], [0.583, 0.3731], [0.595, 0.2975], [0.607, 0.4067], [0.619, 0.3281], [0.632, 0.3792],
  [0.645, 0.316], [0.658, 0.4343], [0.671, 0.3489], [0.685, 0.4247], [0.699, 0.3285], [0.713, 0.492], [0.728, 0.4004], [0.743, 0.4755], [0.758, 0.379], [0.773, 0.5179],
  [0.789, 0.4182], [0.805, 0.483], [0.821, 0.4023], [0.838, 0.5531], [0.855, 0.4446], [0.872, 0.5406], [0.89, 0.4183],
  [0.192, 0.1114], [0.197, 0.1064], [0.202, 0.1232], [0.206, 0.1154], [0.21, 0.1239], [0.215, 0.1097], [0.219, 0.138], [0.224, 0.1277], [0.228, 0.1254], [0.233, 0.1398],
  [0.237, 0.1232], [0.242, 0.1573], [0.247, 0.1433], [0.252, 0.1361], [0.257, 0.1568], [0.262, 0.1467], [0.268, 0.1581], [0.273, 0.1392], [0.279, 0.1758], [0.285, 0.1625],
  [0.291, 0.16], [0.297, 0.1782], [0.303, 0.1576], [0.309, 0.2009], [0.315, 0.1827], [0.322, 0.1739], [0.328, 0.2001], [0.335, 0.1876], [0.342, 0.2018], [0.349, 0.178],
  [0.356, 0.2243], [0.363, 0.2069], [0.37, 0.2035], [0.378, 0.2268], [0.386, 0.2007], [0.394, 0.2561], [0.402, 0.2332], [0.41, 0.2214], [0.418, 0.255], [0.426, 0.2386],
  [0.434, 0.2561], [0.443, 0.2259], [0.452, 0.2848], [0.461, 0.2628], [0.471, 0.2591], [0.481, 0.2886], [0.491, 0.2553], [0.501, 0.3257], [0.511, 0.2964], [0.521, 0.2813],
  [0.532, 0.3245], [0.543, 0.3041], [0.554, 0.3269], [0.565, 0.2882], [0.577, 0.3635], [0.589, 0.3357], [0.601, 0.3306], [0.613, 0.3678], [0.625, 0.325], [0.638, 0.4147],
  [0.651, 0.3776], [0.664, 0.3586], [0.678, 0.4136], [0.692, 0.3875], [0.706, 0.4165], [0.72, 0.3672], [0.735, 0.463], [0.75, 0.4275], [0.765, 0.4208], [0.781, 0.4686],
  [0.797, 0.4144], [0.813, 0.5285], [0.83, 0.4814], [0.846, 0.4568], [0.863, 0.5264], [0.88, 0.4928],
];

const outerPoints: P[] = [
  [0.181, 1.82], [0.215, 1.82], [0.241, 1.74], [0.273, 1.98], [0.282, 1.8], [0.262, 1.7], [0.17, 1.47], [0.189, 1.35], [0.196, 1.42], [0.218, 1.47],
  [0.236, 1.44], [0.167, 1.22], [0.187, 1.22], [0.151, 1.08], [0.158, 1.05], [0.168, 1.06], [0.181, 1.05], [0.19, 1.1], [0.115, 0.93], [0.142, 0.826],
  [0.1555, 0.854], [0.12, 0.723], [0.127, 0.67], [0.106, 0.694], [0.1, 0.644], [0.102, 0.568], [0.108, 0.532], [0.092, 0.49], [0.101, 0.497], [0.09, 0.462],
  [0.06, 0.273], [0.065, 0.262], [0.071, 0.304], [0.08, 0.317], [0.085, 0.31], [0.061, 0.235], [0.067, 0.226], [0.057, 0.196], [0.054, 0.181], [0.051, 0.17],
  [0.046, 0.169], [0.058, 0.17],
];

const lowerPoints: P[] = [
  [0.0442, 0.0928], [0.0476, 0.095], [0.047, 0.117], [0.0511, 0.0459], [0.0456, 0.0372], [0.0465, 0.0311], [0.0476, 0.026], [0.052, 0.023], [0.0541, 0.0187], [0.0517, 0.0104],
  [0.0514, 0.0093], [0.0548, 0.0119], [0.0596, 0.0123], [0.0636, 0.0129], [0.061, 0.0099], [0.0645, 0.0098], [0.069, 0.0103], [0.067, 0.0181], [0.071, 0.0159], [0.0758, 0.0156],
  [0.0753, 0.018], [0.0797, 0.0171], [0.0882, 0.014], [0.091, 0.0135], [0.0882, 0.0161], [0.0904, 0.0184], [0.1, 0.0172], [0.0824, 0.0192], [0.0866, 0.0197], [0.0797, 0.0221],
  [0.0862, 0.0224], [0.1, 0.0249], [0.0976, 0.0221], [0.1032, 0.023], [0.1058, 0.0208], [0.111, 0.0197], [0.12, 0.0187], [0.1013, 0.0277], [0.115, 0.027], [0.12, 0.0263],
  [0.127, 0.0283], [0.1295, 0.0261], [0.12, 0.0316], [0.1295, 0.0239], [0.1335, 0.0226], [0.131, 0.0203], [0.1375, 0.0208], [0.146, 0.0211], [0.1535, 0.0239], [0.1417, 0.0283],
  [0.144, 0.0302], [0.16, 0.0273], [0.168, 0.0268], [0.1417, 0.0334], [0.132, 0.0334], [0.132, 0.0291], [0.158, 0.0308], [0.168, 0.0311], [0.189, 0.0273], [0.181, 0.0337],
  [0.19, 0.0298], [0.167, 0.0366], [0.189, 0.0358], [0.1735, 0.0395], [0.181, 0.0412], [0.196, 0.0395], [0.214, 0.0366], [0.218, 0.0325], [0.207, 0.0422], [0.215, 0.044],
  [0.239, 0.0429], [0.257, 0.0388], [0.282, 0.0405], [0.296, 0.0465], [0.236, 0.0465], [0.249, 0.0505], [0.265, 0.0554], [0.275, 0.052], [0.227, 0.0532], [0.243, 0.0578],
  [0.258, 0.0622], [0.296, 0.0578], [0.31, 0.0554], [0.351, 0.0573], [0.349, 0.0622], [0.373, 0.0613], [0.395, 0.059], [0.43, 0.064], [0.334, 0.0667], [0.32, 0.074],
  [0.362, 0.071], [0.301, 0.0684], [0.349, 0.0819], [0.377, 0.08], [0.394, 0.074], [0.362, 0.0928], [0.394, 0.095], [0.419, 0.0819], [0.44, 0.0913], [0.463, 0.0866],
  [0.482, 0.0928], [0.446, 0.1], [0.52, 0.077], [0.529, 0.0834], [0.58, 0.1], [0.59, 0.0855], [0.628, 0.095], [0.655, 0.107], [0.427, 0.108], [0.397, 0.0695],
  [0.056, 0.141], [0.059, 0.15], [0.061, 0.131], [0.066, 0.143], [0.071, 0.126], [0.057, 0.122], [0.0555, 0.112], [0.0614, 0.117], [0.054, 0.1], [0.062, 0.1],
  [0.069, 0.0913], [0.071, 0.098], [0.076, 0.095], [0.079, 0.091], [0.056, 0.084], [0.06, 0.091], [0.064, 0.081], [0.061, 0.074], [0.058, 0.0695], [0.065, 0.0735],
  [0.068, 0.0695], [0.061, 0.0627], [0.063, 0.0573], [0.056, 0.0573], [0.054, 0.049], [0.058, 0.045], [0.06, 0.0415], [0.063, 0.0412], [0.066, 0.044], [0.069, 0.0499],
  [0.071, 0.0527], [0.076, 0.0554], [0.082, 0.0505], [0.084, 0.049], [0.077, 0.0459], [0.071, 0.0435], [0.068, 0.0395], [0.067, 0.0366], [0.072, 0.0372], [0.069, 0.0337],
  [0.063, 0.035], [0.059, 0.0358], [0.055, 0.0311], [0.063, 0.0308], [0.07, 0.0308], [0.06, 0.0268], [0.061, 0.0246], [0.082, 0.0337], [0.094, 0.0325], [0.084, 0.0554],
  [0.09, 0.052], [0.096, 0.052], [0.091, 0.0429], [0.1, 0.0422], [0.098, 0.0545], [0.107, 0.0366], [0.091, 0.0667], [0.09, 0.06], [0.1, 0.0573], [0.103, 0.0613],
  [0.109, 0.0667], [0.116, 0.0667], [0.12, 0.068], [0.113, 0.0608], [0.096, 0.074], [0.104, 0.0724], [0.083, 0.0724], [0.077, 0.0684], [0.067, 0.0786], [0.071, 0.0855],
  [0.078, 0.0866], [0.085, 0.0819], [0.092, 0.0834], [0.099, 0.0877], [0.106, 0.081], [0.11, 0.077], [0.12, 0.0866], [0.127, 0.081], [0.1255, 0.094], [0.116, 0.0928],
  [0.106, 0.102], [0.098, 0.107], [0.09, 0.102], [0.083, 0.095], [0.094, 0.112], [0.086, 0.117], [0.077, 0.124], [0.096, 0.122], [0.103, 0.131], [0.109, 0.127],
  [0.116, 0.141], [0.12, 0.135], [0.131, 0.149], [0.142, 0.144], [0.152, 0.135], [0.16, 0.122], [0.17, 0.11], [0.131, 0.112], [0.139, 0.104], [0.148, 0.099],
  [0.135, 0.0877], [0.148, 0.083], [0.157, 0.0775], [0.17, 0.081], [0.181, 0.0877], [0.189, 0.0786], [0.2, 0.0724], [0.174, 0.0724], [0.139, 0.0724], [0.129, 0.071],
  [0.142, 0.065], [0.154, 0.0613], [0.167, 0.0655], [0.181, 0.0627], [0.205, 0.0613], [0.227, 0.0667], [0.246, 0.071], [0.262, 0.074], [0.282, 0.0724], [0.231, 0.0786],
  [0.25, 0.0834], [0.273, 0.0877], [0.296, 0.0834], [0.314, 0.0899], [0.328, 0.081], [0.22, 0.089], [0.236, 0.095], [0.25, 0.1], [0.278, 0.107], [0.314, 0.102],
  [0.334, 0.107], [0.362, 0.112], [0.394, 0.107], [0.427, 0.119], [0.474, 0.126], [0.513, 0.112], [0.556, 0.107], [0.605, 0.116], [0.655, 0.122], [0.59, 0.133],
  [0.529, 0.141], [0.482, 0.144], [0.446, 0.153], [0.394, 0.149], [0.355, 0.141], [0.32, 0.133], [0.296, 0.122], [0.58, 0.157], [0.643, 0.149], [0.419, 0.0928],
  [0.72, 0.112], [0.78, 0.118], [0.84, 0.13], [0.92, 0.14],
];

const rightPoints: P[] = [
  [1.34, 0.196], [1.0, 0.177], [0.9, 0.185], [0.853, 0.162], [1.07, 0.2], [1.14, 0.252], [1.19, 0.226], [1.26, 0.248], [1.43, 0.255], [1.5, 0.29],
  [1.61, 0.255], [1.37, 0.29], [1.29, 0.323], [1.82, 0.342], [1.71, 0.36], [1.57, 0.372], [1.59, 0.404], [1.78, 0.388], [2.16, 0.36], [1.97, 0.425],
  [2.37, 0.35], [2.48, 0.372], [2.33, 0.462], [2.14, 0.45], [1.89, 0.477], [1.67, 0.49], [2.97, 0.469], [2.57, 0.519], [2.8, 0.51], [2.4, 0.536],
  [1.94, 0.545], [1.86, 0.578], [2.19, 0.578], [2.37, 0.587], [2.68, 0.593], [3.79, 0.638], [3.49, 0.666], [3.38, 0.644], [4.24, 0.682], [3.94, 0.76],
  [3.94, 0.883], [4.1, 0.82], [4.73, 0.806], [5.1, 0.754], [6.6, 0.975], [6.44, 1.05], [5.6, 1.06], [6.06, 1.22], [6.24, 1.15], [7.23, 1.15],
  [6.44, 1.33], [6.62, 1.53], [5.35, 1.29], [5.48, 1.36], [5.0, 1.48], [4.73, 1.63], [5.15, 1.7], [4.43, 1.57], [4.19, 1.47], [4.46, 1.42],
  [4.1, 1.36], [4.24, 1.1], [4.51, 0.975], [4.29, 0.975], [3.86, 1.12], [3.64, 1.03], [3.64, 1.19], [3.79, 1.3], [3.28, 1.15], [3.22, 1.03],
  [3.49, 0.975], [3.03, 1.03], [2.9, 0.975], [2.63, 0.975], [2.8, 0.875], [2.47, 0.9], [2.37, 0.826], [2.57, 0.79], [2.97, 0.806], [3.16, 0.826],
  [3.36, 0.806], [3.03, 0.729], [2.68, 0.71], [2.85, 0.682], [2.37, 0.71], [2.12, 0.786], [1.82, 0.773], [1.67, 0.723], [1.67, 0.644],
  [5.35, 1.9], [5.68, 1.74], [6.06, 2.01], [6.71, 1.74], [7.0, 1.98], [7.7, 1.85], [9.7, 2.13], [5.35, 2.18], [4.94, 2.18], [4.79, 1.85],
  [4.56, 2.01], [4.19, 2.24], [4.37, 2.37], [3.94, 2.43], [3.71, 2.31], [3.49, 2.01], [3.71, 1.96], [3.79, 1.85], [4.03, 1.82], [4.1, 1.66],
  [3.94, 1.44], [3.71, 1.53], [3.38, 1.57], [3.16, 1.57], [3.22, 1.44], [3.03, 1.44], [2.9, 1.57], [2.97, 1.8], [3.28, 1.82], [3.16, 1.96],
  [2.9, 2.13], [3.03, 2.52], [3.36, 2.47], [3.64, 2.47], [3.28, 2.28], [4.65, 2.33],
  [0.727, 0.157], [0.764, 0.146], [0.8, 0.15], [0.93, 0.163], [0.9, 0.143], [0.764, 0.126], [0.8, 0.133], [0.88, 0.127], [1.07, 0.158], [0.697, 0.137],
];

// ---------- styling ----------
const SANS = '"Liberation Sans", Arial, Helvetica, sans-serif';
const GREEN = "#52bd6a";
const DASH_GREEN = "#6cab40";
const RED = "#e3161d";

const toXY = (arr: P[]) => arr.map(([x, y]) => ({ x, y }));

export default function App() {
  const canvasRef = useRef<HTMLCanvasElement | null>(null);

  useEffect(() => {
    const canvas = canvasRef.current;
    if (!canvas) return;

    const scatter = [
      ...topPoints, ...cloudUpper, ...cloudMiddle, ...cloudLower, ...coreFill, ...coreFill2, ...rightFill,
      ...streakPoints, ...streakWide, ...outerPoints, ...lowerPoints, ...rightPoints,
    ];

    const datasets: any[] = [];
    distanceExtensions.forEach((seg) => {
      datasets.push({
        data: toXY(seg), showLine: true, pointRadius: 0, borderColor: DASH_GREEN,
        borderWidth: 6, borderDash: [27, 22], clip: false, borderCapStyle: "butt",
      });
    });
    distanceLines.forEach((seg) => {
      datasets.push({ data: toXY(seg), showLine: true, pointRadius: 0, borderColor: GREEN, borderWidth: 2.2 });
    });
    sourceSeparations.forEach((a) => {
      datasets.push({
        data: [{ x: sourceLineRange[0], y: a }, { x: sourceLineRange[1], y: a }],
        showLine: true, pointRadius: 0, borderColor: RED, borderWidth: 3, borderDash: [3, 3.3],
      });
    });
    datasets.push({
      data: toXY(scatter), showLine: false, pointRadius: 2.2, pointBorderWidth: 0,
      pointBackgroundColor: "#000", backgroundColor: "#000",
    });

    const annotate = {
      id: "annotate",
      afterDraw(chart: any) {
        const { ctx, chartArea: a, scales } = chart;
        const xs = scales.x;
        const ys = scales.y;
        ctx.save();
        ctx.strokeStyle = "#000";
        ctx.lineWidth = 2.6;
        ctx.strokeRect(a.left, a.top, a.right - a.left, a.bottom - a.top);
        const xt = (v: number, len: number) => {
          const px = xs.getPixelForValue(v);
          ctx.beginPath();
          ctx.moveTo(px, a.bottom); ctx.lineTo(px, a.bottom - len);
          ctx.moveTo(px, a.top); ctx.lineTo(px, a.top + len);
          ctx.stroke();
        };
        const yt = (v: number, len: number) => {
          const py = ys.getPixelForValue(v);
          ctx.beginPath();
          ctx.moveTo(a.left, py); ctx.lineTo(a.left + len, py);
          ctx.moveTo(a.right, py); ctx.lineTo(a.right - len, py);
          ctx.stroke();
        };
        xMajorTicks.forEach((v) => xt(v, 22));
        xMinorTicks.forEach((v) => xt(v, 11));
        yMajorTicks.forEach((v) => yt(v, 22));
        yMinorTicks.forEach((v) => yt(v, 11));

        // axis titles
        ctx.fillStyle = "#000";
        ctx.font = `36px ${SANS}`;
        ctx.textAlign = "center";
        ctx.textBaseline = "alphabetic";
        ctx.fillText(xTitle, (a.left + a.right) / 2 + 2, a.bottom + 86);
        ctx.save();
        ctx.translate(44, 542);
        ctx.rotate(-Math.PI / 2);
        ctx.fillText(yTitle, 0, 0);
        ctx.restore();

        // distance labels along the lines
        const ang = Math.atan2(
          ys.getPixelForValue(10) - ys.getPixelForValue(1),
          xs.getPixelForValue(10) - xs.getPixelForValue(1)
        );
        ctx.fillStyle = GREEN;
        distanceNames.forEach((name, i) => {
          const [lx, ly] = distanceLabelPos[i];
          const px = xs.getPixelForValue(lx);
          const py = ys.getPixelForValue(ly);
          ctx.save();
          ctx.translate(px, py);
          ctx.rotate(ang);
          ctx.textBaseline = "middle";
          if (i === 2) {
            const dFont = `italic bold 30px "DejaVu Serif", "Liberation Serif", serif`;
            ctx.font = dFont;
            const wd = ctx.measureText("d").width;
            ctx.font = `28px ${SANS}`;
            const rest = " " + name;
            const wr = ctx.measureText(rest).width;
            const start = -(wd + wr) / 2;
            ctx.textAlign = "left";
            ctx.font = dFont;
            ctx.fillText("d", start, 0);
            ctx.font = `28px ${SANS}`;
            ctx.fillText(rest, start + wd, 0);
          } else {
            ctx.font = `28px ${SANS}`;
            ctx.textAlign = "center";
            ctx.fillText(name, 0, 0);
          }
          ctx.restore();
        });

        // source labels
        ctx.fillStyle = RED;
        ctx.font = `28px ${SANS}`;
        ctx.textAlign = "right";
        ctx.textBaseline = "alphabetic";
        const rx = xs.getPixelForValue(sourceLabelRight);
        sourceNames.forEach((name, i) => {
          const py = ys.getPixelForValue(sourceSeparations[i]);
          ctx.fillText(name, rx, py - 6);
        });
        ctx.restore();
      },
    };

    const chart = new Chart(canvas, {
      type: "scatter",
      data: { datasets },
      options: {
        animation: false,
        responsive: false,
        events: [],
        layout: { padding: { left: 0, right: 14, top: 12, bottom: 0 } },
        plugins: { legend: { display: false }, tooltip: { enabled: false } },
        scales: {
          x: {
            type: "logarithmic",
            min: xRange[0],
            max: xRange[1],
            grid: { display: false, drawTicks: false },
            border: { display: false },
            ticks: {
              color: "#000",
              font: { family: SANS, size: 34 },
              padding: 16,
              autoSkip: false,
              maxRotation: 0,
              callback: (v: any) => String(v),
            },
            afterBuildTicks: (s: any) => {
              s.ticks = xMajorTicks.map((v) => ({ value: v }));
            },
            afterFit: (s: any) => {
              s.height = 93;
              s.paddingLeft = 0;
              s.paddingRight = 0;
            },
          },
          y: {
            type: "logarithmic",
            min: yRange[0],
            max: yRange[1],
            grid: { display: false, drawTicks: false },
            border: { display: false },
            ticks: {
              color: "#000",
              font: { family: SANS, size: 32 },
              padding: 15,
              autoSkip: false,
              callback: (v: any) => String(v),
            },
            afterBuildTicks: (s: any) => {
              s.ticks = yMajorTicks.map((v) => ({ value: v }));
            },
            afterFit: (s: any) => {
              s.width = 150;
              s.paddingTop = 0;
              s.paddingBottom = 0;
            },
          },
        },
      },
      plugins: [annotate],
    } as any);

    return () => chart.destroy();
  }, []);

  return (
    <div style={{ position: "absolute", left: 0, top: 0, width: 1292, height: 934, background: "#fff" }}>
      <canvas ref={canvasRef} width={1292} height={934} style={{ display: "block" }} />
    </div>
  );
}
